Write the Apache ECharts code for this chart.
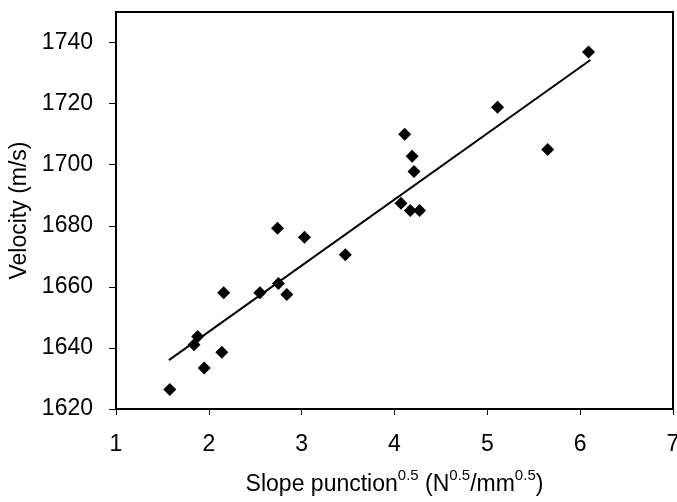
<!DOCTYPE html>
<html>
<head>
<meta charset="utf-8">
<script src="https://cdn.jsdelivr.net/npm/echarts@6/dist/echarts.min.js"></script>
<style>
  html, body { margin: 0; padding: 0; background: #fff; }
  #chart { width: 677px; height: 502px; }
</style>
</head>
<body>
<div id="chart"></div>
<script>
// measured points: slope punction^0.5 vs velocity
var slopeX = [1.58, 1.84, 1.88, 1.95, 2.14, 2.16, 2.55, 2.74, 2.75, 2.84, 3.03,
              3.47, 4.07, 4.11, 4.17, 4.19, 4.21, 4.27, 5.11, 5.65, 6.09];
var velocityY = [1626.4, 1641.0, 1643.7, 1633.4, 1638.6, 1658.1, 1658.1, 1679.2, 1661.1, 1657.5, 1676.2,
                 1670.5, 1687.4, 1710.0, 1685.0, 1702.8, 1697.8, 1685.0, 1718.8, 1705.0, 1736.9];
// linear fit, end points
var fitX = [1.57, 6.11];
var fitY = [1636.0, 1734.3];

var font = 'Liberation Sans';
var chart = echarts.init(document.getElementById('chart'));

var points = slopeX.map(function (x, i) { return [x, velocityY[i]]; });
var fitLine = fitX.map(function (x, i) { return [x, fitY[i]]; });

var option = {
	animation: false,
	backgroundColor: '#fff',
	grid: {
		left: 116,
		right: 4,
		top: 12,
		bottom: 93,
		outerBoundsMode: 'none',
		show: true,
		borderColor: '#000',
		borderWidth: 2
	},
	xAxis: {
		type: 'value',
		min: 1,
		max: 7,
		interval: 1,
		splitLine: { show: false },
		axisLine: { lineStyle: { color: '#000', width: 2 } },
		axisTick: { inside: false, length: 6, lineStyle: { color: '#000' } },
		axisLabel: {
			color: '#000', fontFamily: font, fontSize: 23, margin: 24,
			formatter: function (v) { return String(v); }
		},
		name: '{t|Slope punction}{s|0.5}{t| (N}{s|0.5}{t|/mm}{s|0.5}{t|)}',
		nameLocation: 'middle',
		nameGap: 59,
		nameTextStyle: {
			rich: {
				t: { fontFamily: font, fontSize: 23, color: '#000', verticalAlign: 'bottom', lineHeight: 28 },
				s: { fontFamily: font, fontSize: 15, color: '#000', verticalAlign: 'top', lineHeight: 28, padding: [0, 0, 11, 0] }
			}
		}
	},
	yAxis: {
		type: 'value',
		min: 1620,
		max: 1750,
		interval: 20,
		splitLine: { show: false },
		axisLine: { lineStyle: { color: '#000', width: 2 } },
		axisTick: { inside: false, length: 7, lineStyle: { color: '#000' } },
		axisLabel: {
			color: '#000', fontFamily: font, fontSize: 23, margin: 23, showMaxLabel: false,
			formatter: function (v) { return String(v); }
		},
		name: 'Velocity (m/s)',
		nameLocation: 'middle',
		nameGap: 84,
		nameTextStyle: { color: '#000', fontFamily: font, fontSize: 23 }
	},
	series: [
		{
			type: 'scatter',
			data: points,
			symbol: 'diamond',
			symbolSize: 13,
			itemStyle: { color: '#000', opacity: 1 }
		},
		{
			type: 'line',
			data: fitLine,
			showSymbol: false,
			lineStyle: { color: '#000', width: 2 }
		}
	]
};
chart.setOption(option);
</script>
</body>
</html>
